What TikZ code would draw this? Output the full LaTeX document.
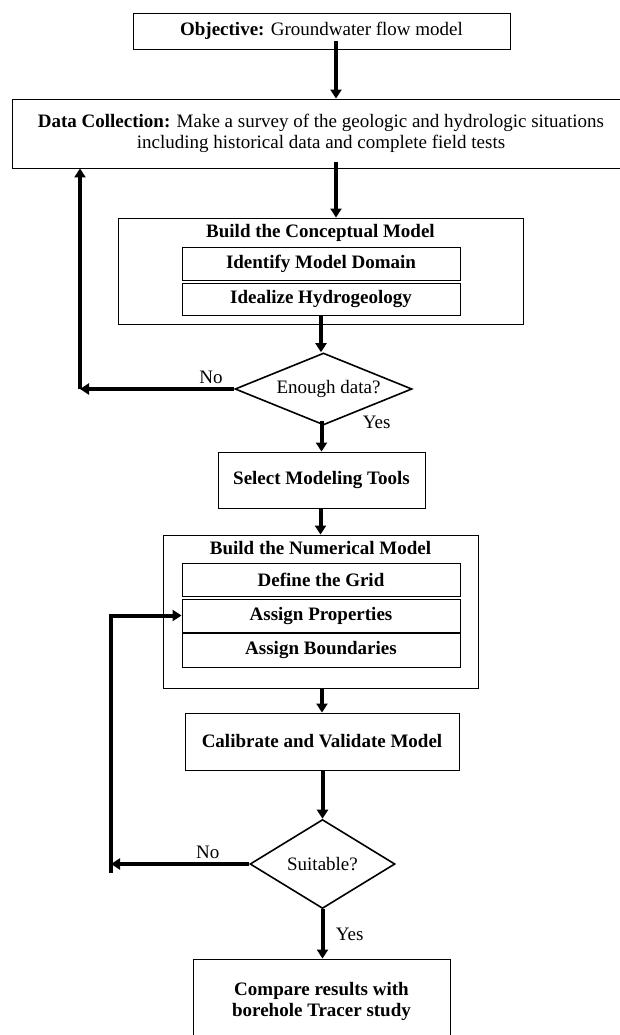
\documentclass[tikz,border=0pt]{standalone}
\usepackage{fontspec}
\setmainfont{Liberation Serif}
\usetikzlibrary{arrows.meta,shapes.geometric}

\begin{document}
\begin{tikzpicture}[x=1pt,y=-1pt]
\tikzstyle{block} = [rectangle, draw, line width=0.9pt, inner sep=0pt,
font=\fontsize{19}{21}\selectfont\bfseries, align=center]
\tikzstyle{frame} = [rectangle, draw, line width=0.9pt, inner sep=0pt]
\tikzstyle{title} = [font=\fontsize{19}{21}\selectfont\bfseries]
\tikzstyle{decision} = [diamond, draw, line width=1.6pt, inner sep=0pt,
font=\fontsize{19}{21}\selectfont]
\tikzstyle{lbl} = [font=\fontsize{19}{21}\selectfont]
\tikzstyle{line} = [draw, line width=4pt, -{Triangle[length=9pt,width=11pt]}];

\useasboundingbox (0,0) rectangle (620,1035);

% top part
\node [block, minimum width=377pt, minimum height=36pt] (objective) at (321.5,31)
  {Objective: \mdseries Groundwater flow model};
\node [block, minimum width=618pt, minimum height=69pt, font=\fontsize{19}{20.5}\selectfont] (data) at (321,133.5)
  {\textbf{Data Collection:} Make a survey of the geologic and hydrologic situations\\
   including historical data and complete field tests};

% conceptual model
\node [frame, minimum width=405pt, minimum height=106pt] (concept) at (320.5,271) {};
\node [title] (concepttitle) at (320.5,233) {Build the Conceptual Model};
\node [block, minimum width=278pt, minimum height=33pt] (identify) at (321,263.5) {Identify Model Domain};
\node [block, minimum width=278pt, minimum height=32pt] (idealize) at (321,299) {Idealize Hydrogeology};

\node [decision, aspect=2.45, minimum width=177pt, minimum height=72pt] (enough) at (323.5,389) {\hspace{10pt}Enough data?};

\node [block, minimum width=207pt, minimum height=56pt] (select) at (321.5,480) {Select Modeling Tools};

% numerical model
\node [frame, minimum width=315pt, minimum height=153pt] (numerical) at (320.5,611.5) {};
\node [title] (numtitle) at (320.5,548) {Build the Numerical Model};
\node [block, minimum width=278pt, minimum height=33pt] (grid) at (321,579.5) {Define the Grid};
\node [block, minimum width=278pt, minimum height=33pt] (props) at (321,615.5) {Assign Properties};
\node [block, minimum width=278pt, minimum height=34pt] (bounds) at (321,650) {Assign Boundaries};

\node [block, minimum width=274pt, minimum height=57pt] (calibrate) at (322,741.5) {Calibrate and Validate Model};

\node [decision, aspect=1.63, minimum width=145pt, minimum height=89pt] (suitable) at (322.5,864) {Suitable?};

\node [block, minimum width=257pt, minimum height=84pt] (compare) at (321.5,1001)
  {Compare results with\\ borehole Tracer study};

% helper columns for the connectors
\coordinate (topline) at (336,0);
\coordinate (loopA) at (80,0);
\coordinate (loopB) at (111,0);

\path [line] ([yshift=8pt]topline |- objective.south) -- (topline |- data.north);
\path [line] ([yshift=6pt]topline |- data.south) -- (topline |- concept.north);
\path [line] (idealize.south) -- (idealize.south |- enough.north);
\path [line] ([yshift=5pt]enough.south -| select.north) -- node [lbl, pos=0.05, right=36pt] {Yes} (select.north);
\path [line] (enough.west) -- node [lbl, pos=0.15, above] {No} (enough.west -| loopA);
\path [line] (enough.west -| loopA) -- (loopA |- data.south);
\path [line] (select.south -| numerical.north) -- (numerical.north);
\path [line] (numerical.south -| calibrate.north) -- (calibrate.north);
\path [line] (calibrate.south -| suitable.north) -- (suitable.north);
\path [line] (suitable.south) -- node [lbl, midway, right=8pt] {Yes} (suitable.south |- compare.north);
\path [line] (suitable.west) -- node [lbl, pos=0.3, above] {No} (suitable.west -| loopB);
\path [line] ([yshift=-9pt]suitable.west -| loopB) -- (loopB |- props.west) -- (props.west);

\end{tikzpicture}
\end{document}
